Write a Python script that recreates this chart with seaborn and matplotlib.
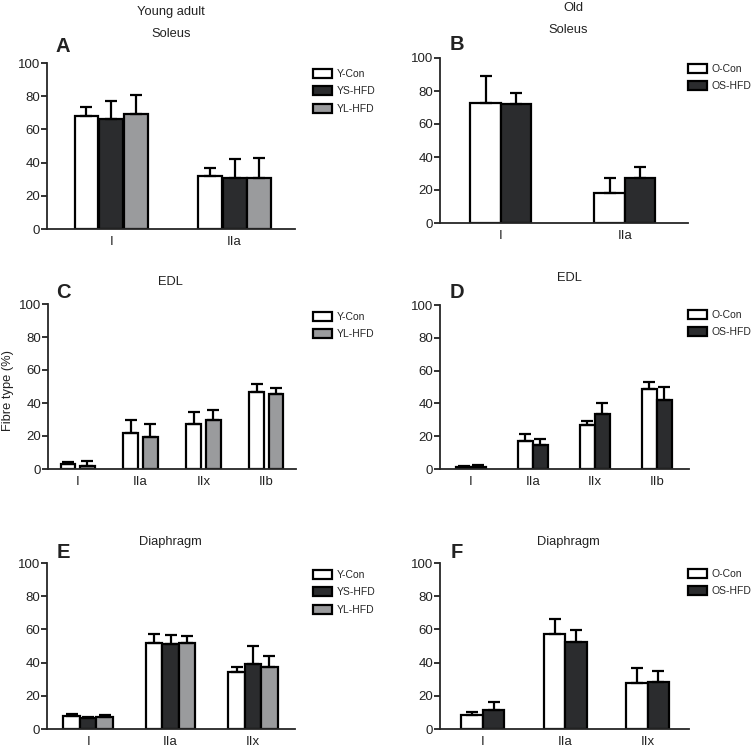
import pandas as pd
import matplotlib.pyplot as plt
import seaborn as sns

# ── Data ─────────────────────────────────────────────────────────────────────
soleus_types = ["I", "IIa"]
edl_types = ["I", "IIa", "IIx", "IIb"]
dia_types = ["I", "IIa", "IIx"]

young_groups_3 = ["Y-Con", "YS-HFD", "YL-HFD"]
young_groups_2 = ["Y-Con", "YL-HFD"]
old_groups = ["O-Con", "OS-HFD"]

# A: young soleus
a_means = {"Y-Con": [68, 32], "YS-HFD": [66, 31], "YL-HFD": [69, 31]}
a_errs = {"Y-Con": [5.5, 5], "YS-HFD": [11, 11], "YL-HFD": [12, 12]}
# B: old soleus
b_means = {"O-Con": [73, 18], "OS-HFD": [72, 27]}
b_errs = {"O-Con": [16, 9.5], "OS-HFD": [7, 7]}
# C: young EDL
c_means = {"Y-Con": [3, 22, 27, 46.5], "YL-HFD": [2, 19.5, 30, 45.5]}
c_errs = {"Y-Con": [1, 8, 7.5, 5], "YL-HFD": [3, 8, 5.5, 3.5]}
# D: old EDL
d_means = {"O-Con": [1, 17, 27, 48.5], "OS-HFD": [1.5, 14.5, 33.5, 42]}
d_errs = {"O-Con": [0.8, 4.5, 2.5, 4.5], "OS-HFD": [0.8, 3.5, 7, 8]}
# E: young diaphragm
e_means = {"Y-Con": [8, 52, 34.5], "YS-HFD": [6.5, 51, 39], "YL-HFD": [7.5, 52, 37.5]}
e_errs = {"Y-Con": [1, 5, 3], "YS-HFD": [1, 5.5, 11], "YL-HFD": [1, 4, 6.5]}
# F: old diaphragm
f_means = {"O-Con": [8.5, 57, 28], "OS-HFD": [11.5, 52.5, 28.5]}
f_errs = {"O-Con": [2, 9, 8.5], "OS-HFD": [5, 7, 6.5]}

palette = {"Y-Con": "white", "YS-HFD": "#2b2c2e", "YL-HFD": "#9a9b9d",
           "O-Con": "white", "OS-HFD": "#2b2c2e"}

# ── Setup ────────────────────────────────────────────────────────────────────
sns.set_theme(style="ticks")
plt.rcParams["font.family"] = ["Liberation Sans", "DejaVu Sans"]

fig = plt.figure(figsize=(7.55, 7.47), dpi=100)
W, H = 755, 747
TXT = "#222222"


def px_axes(x0, x1, ytop, ybot):
    return fig.add_axes([x0 / W, 1 - ybot / H, (x1 - x0) / W, (ybot - ytop) / H])


def panel(ax, types, groups, means, errs, width, gap, xlim, letter, title,
          title_xy, letter_xy, legend_xy):
    rows = []
    for g in groups:
        for t, v in zip(types, means[g]):
            rows.append({"type": t, "group": g, "value": v})
    df = pd.DataFrame(rows)
    sns.barplot(data=df, x="type", y="value", hue="group", order=types,
                hue_order=groups, palette=palette, errorbar=None, width=width,
                gap=gap, edgecolor="black", linewidth=1.6, ax=ax, legend=True)
    # upward-only error bars on top of each bar
    for g, cont in zip(groups, ax.containers):
        xs = [p.get_x() + p.get_width() / 2 for p in cont.patches]
        ys = [p.get_height() for p in cont.patches]
        ax.errorbar(xs, ys, yerr=[[0] * len(xs), errs[g]], fmt="none",
                    ecolor="black", elinewidth=1.6, capsize=4.5, capthick=1.6,
                    zorder=1)
    handles, labels = ax.get_legend_handles_labels()
    ax.legend(handles, labels, loc="upper left", frameon=False,
              bbox_to_anchor=(legend_xy[0] / W, 1 - legend_xy[1] / H),
              bbox_transform=fig.transFigure, fontsize=7.5,
              handlelength=1.8, handleheight=0.95, handletextpad=0.5,
              labelspacing=0.7, borderpad=0, borderaxespad=0)
    ax.set_ylim(0, 100)
    ax.set_yticks([0, 20, 40, 60, 80, 100])
    ax.set_xlim(*xlim)
    ax.set_xlabel("")
    ax.set_ylabel("")
    ax.tick_params(axis="y", length=4, width=1.3, labelsize=9.5, pad=1,
                   colors=TXT)
    ax.tick_params(axis="x", length=0, labelsize=9.5, pad=5, colors=TXT)
    for s in ["left", "bottom"]:
        ax.spines[s].set_linewidth(1.3)
    sns.despine(ax=ax)
    fig.text(title_xy[0] / W, 1 - title_xy[1] / H, title, ha="center",
             va="center", fontsize=9.3, color=TXT)
    fig.text(letter_xy[0] / W, 1 - letter_xy[1] / H, letter, ha="center",
             va="center", fontsize=14.5, fontweight="bold", color=TXT)


axA = px_axes(47, 295, 63, 229)
panel(axA, soleus_types, young_groups_3, a_means, a_errs, 0.6, 0.03,
      (-0.52, 1.49), "A", "Soleus", (171, 34), (63, 47), (313, 69))
axB = px_axes(440, 688, 58, 223)
panel(axB, soleus_types, old_groups, b_means, b_errs, 0.49, 0,
      (-0.49, 1.51), "B", "Soleus", (568, 30), (457, 45), (688, 64))
axC = px_axes(48, 296, 304, 469)
panel(axC, edl_types, young_groups_2, c_means, c_errs, 0.62, 0.25,
      (-0.47, 3.47), "C", "EDL", (170, 282), (63, 293), (313, 312))
axD = px_axes(440, 689, 305, 469)
panel(axD, edl_types, old_groups, d_means, d_errs, 0.48, 0,
      (-0.5, 3.52), "D", "EDL", (569, 278), (457, 292), (688, 310))
axE = px_axes(47, 295, 563, 729)
panel(axE, dia_types, young_groups_3, e_means, e_errs, 0.6, 0,
      (-0.5, 2.51), "E", "Diaphragm", (170, 542), (63, 552), (313, 570))
axF = px_axes(440, 689, 563, 729)
panel(axF, dia_types, old_groups, f_means, f_errs, 0.52, 0,
      (-0.52, 2.5), "F", "Diaphragm", (568, 542), (457, 552), (688, 569))

fig.text(171 / W, 1 - 12 / H, "Young adult", ha="center", va="center",
         fontsize=9.3, color=TXT)
fig.text(573 / W, 1 - 8 / H, "Old", ha="center", va="center",
         fontsize=9.3, color=TXT)
fig.text(8 / W, 1 - 390 / H, "Fibre type (%)", ha="center", va="center",
         rotation=90, fontsize=9.3, color=TXT)

plt.savefig("out.png", dpi=100)
plt.close()
print("Saved: out.png")
